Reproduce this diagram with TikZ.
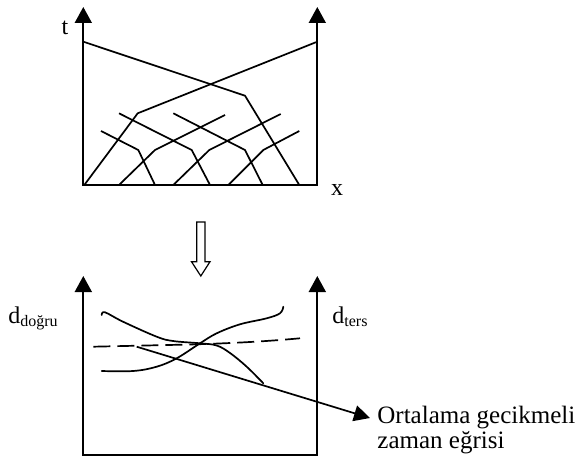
\documentclass[tikz,border=0pt,12pt]{standalone}
\usepackage{fontspec}
\setmainfont{Liberation Serif}
\usepackage{tikz}
\usetikzlibrary{arrows.meta, positioning, calc}
\tikzset{
  axis/.style={
    line width=0.9pt, black,
    {Triangle[width=8.5pt,length=8pt]}-{Triangle[width=8.5pt,length=8pt]}
  },
  ray/.style={line width=0.85pt, line join=miter},
  curve/.style={line width=0.85pt, line cap=round},
  meanline/.style={line width=0.85pt, dash pattern=on 8.5pt off 3.5pt},
  lbl/.style={inner sep=0pt, font=\normalsize}
}

\begin{document}
\begin{tikzpicture}[x=0.5pt, y=-0.5pt]
        \useasboundingbox (0,0) rectangle (576,459);
        % Ust diyagram: eksenler
        \coordinate (ttop) at (83.3,7);
        \coordinate (tbot) at (83.3,185);
        \coordinate (xbot) at (317.3,185);
        \coordinate (xtop) at (317.3,7);
        \draw[axis] (ttop) -- (tbot) -- (xbot) -- (xtop);
        \node[lbl, anchor=base] (tlbl) at (65,35) {t};
        \node[lbl, anchor=base] (xlbl) at (337,196) {x};
        % Ana isinlar
        \draw[ray] (83.3,41.7) -- (245,95.7) -- (299.3,185);
        \draw[ray] (317.3,41.7) -- (137.7,113.3) -- (84.3,185);
        % Kucuk isinlar
        \foreach \p/\q/\r/\s/\u/\v in {101/131/138.3/150/155/185,
                                       119/113.3/191.7/150/210/185,
                                       173.3/113.3/245/150/262.7/185,
                                       119/185/155/150/225/115,
                                       173.3/185/209.3/150/280.7/114,
                                       228.3/185/263.3/150/299.3/131}{%
          \draw[ray] (\p,\q) -- (\r,\s) -- (\u,\v);}
        % Ok
        \draw[line width=0.6pt, line join=miter]
          (196.7,222) -- (205,222) -- (205,261.7) -- (210,261.7)
          -- (200.8,276) -- (191.5,261.7) -- (196.7,261.7) -- cycle;
        % Alt diyagram: eksenler
        \coordinate (dltop) at (83.3,276);
        \coordinate (dlbot) at (83.3,455);
        \coordinate (drbot) at (317.3,455);
        \coordinate (drtop) at (317.3,276);
        \draw[axis] (dltop) -- (dlbot) -- (drbot) -- (drtop);
        \node[lbl, anchor=base west] (dd) at (8,323) {d\textsubscript{doğru}};
        \node[lbl, anchor=base west] (dt) at (332,323) {d\textsubscript{ters}};
        % Gecikme egrileri
        \draw[curve] plot[smooth, tension=0.6] coordinates {
          (101.7,315) (105,312.3) (123,321.7) (156.7,336.7) (173,341)
          (200,343.3) (216.7,345.5) (230,353) (246.7,366.7) (263.3,383.3)};
        \draw[curve] plot[smooth, tension=0.6] coordinates {
          (101.7,371) (133.3,371) (156.7,366.7) (176.7,358.3) (200,343.3)
          (216.7,333.3) (240,324.3) (266.7,318.3) (280,313.3) (283.3,306.7)};
        % Ortalama egri
        \draw[meanline] (93.3,346.7) -- (190,344.5)
          .. controls (240,343) and (270,341) .. (300,338.3);
        \coordinate (avg) at (136.7,346.7);
        \coordinate (tip) at (370,418);
        \draw[line width=0.85pt, -{Triangle[width=8pt,length=8pt]}] (avg) -- (tip);
        \node[lbl, anchor=north west, align=left,
              font=\fontsize{12.5}{11}\selectfont] (note) at (377,406)
          {Ortalama gecikmeli\\zaman eğrisi};
      \end{tikzpicture}
\end{document}
